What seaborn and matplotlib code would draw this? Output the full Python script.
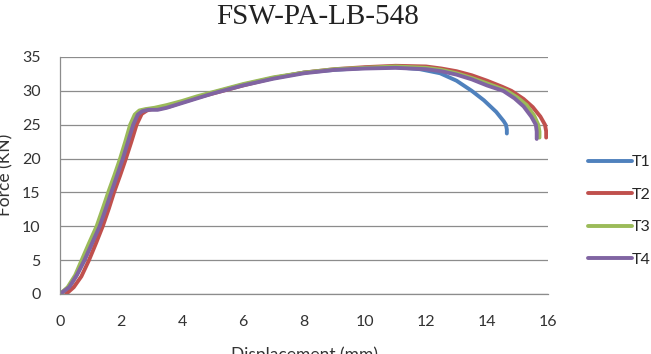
import pandas as pd
import seaborn as sns
import matplotlib.pyplot as plt

# Force-displacement curves
t1_x = [0, 0.3, 0.55, 0.8, 1.05, 1.3, 1.5, 1.68, 1.87, 2.06, 2.23, 2.4, 2.55, 2.7, 2.9, 3.2, 3.5, 4.0, 4.5, 5.0,
        6.0, 7.0, 8.0, 9.0, 10.0, 11.0, 11.8, 12.46, 13.0, 13.5, 13.9, 14.3, 14.55, 14.62, 14.65, 14.65]
t1_y = [0, 1.0, 2.8, 5.0, 7.5, 10.0, 12.6, 15.0, 17.5, 20.0, 22.5, 25.0, 26.5, 27.1, 27.3, 27.4, 27.7, 28.3, 29.0, 29.7,
        30.9, 31.9, 32.7, 33.1, 33.4, 33.5, 33.2, 32.6, 31.5, 30.0, 28.6, 26.9, 25.5, 25.0, 24.3, 23.7]

t2_x = [0.2, 0.45, 0.7, 0.95, 1.18, 1.4, 1.6, 1.77, 1.97, 2.16, 2.34, 2.51, 2.68, 2.85, 3.0, 3.3, 3.6, 4.0, 4.5, 5.0,
        6.0, 7.0, 8.0, 9.0, 10.0, 11.0, 12.0, 12.5, 13.0, 13.5, 14.0, 14.5, 14.8, 15.2, 15.5, 15.75, 15.9, 15.94, 15.94]
t2_y = [0, 1.0, 2.6, 5.0, 7.5, 10.0, 12.6, 15.0, 17.5, 20.0, 22.5, 25.0, 26.6, 27.1, 27.3, 27.4, 27.7, 28.3, 29.0, 29.6,
        30.8, 31.9, 32.7, 33.2, 33.5, 33.7, 33.6, 33.3, 32.9, 32.3, 31.5, 30.6, 30.0, 28.8, 27.6, 26.2, 25.0, 24.0, 23.1]

t3_x = [0, 0.25, 0.5, 0.71, 0.95, 1.2, 1.4, 1.58, 1.78, 1.97, 2.14, 2.3, 2.45, 2.6, 2.8, 3.1, 3.5, 4.0, 4.5, 5.0,
        6.0, 7.0, 8.0, 9.0, 10.0, 11.0, 12.0, 12.5, 13.0, 13.5, 14.0, 14.3, 14.65, 15.0, 15.3, 15.55, 15.68, 15.72, 15.72]
t3_y = [0, 1.0, 2.8, 5.0, 7.5, 10.0, 12.6, 15.0, 17.5, 20.0, 22.5, 25.0, 26.5, 27.1, 27.3, 27.5, 27.9, 28.5, 29.2, 29.8,
        31.0, 32.0, 32.7, 33.2, 33.4, 33.6, 33.4, 33.1, 32.6, 31.9, 31.1, 30.6, 30.0, 29.0, 27.9, 26.3, 25.0, 24.0, 23.1]

t4_x = [0, 0.3, 0.55, 0.8, 1.05, 1.3, 1.5, 1.68, 1.87, 2.06, 2.23, 2.4, 2.55, 2.7, 2.9, 3.2, 3.5, 4.0, 4.5, 5.0,
        6.0, 7.0, 8.0, 9.0, 10.0, 11.0, 12.0, 12.5, 13.0, 13.5, 14.0, 14.53, 14.9, 15.2, 15.45, 15.6, 15.63, 15.63]
t4_y = [0, 1.0, 2.8, 5.0, 7.5, 10.0, 12.6, 15.0, 17.5, 20.0, 22.5, 25.0, 26.5, 27.0, 27.2, 27.2, 27.5, 28.2, 28.9, 29.6,
        30.8, 31.8, 32.6, 33.1, 33.3, 33.4, 33.2, 32.9, 32.4, 31.7, 30.8, 30.0, 28.9, 27.7, 26.2, 25.0, 24.0, 22.9]

series = ['T1', 'T2', 'T3', 'T4']
colors = ['#4F81BD', '#C0504D', '#9BBB59', '#8064A2']
x_ticks = [0, 2, 4, 6, 8, 10, 12, 14, 16]
y_ticks = [0, 5, 10, 15, 20, 25, 30, 35]

frames = []
for name, xs, ys in zip(series, [t1_x, t2_x, t3_x, t4_x], [t1_y, t2_y, t3_y, t4_y]):
    frames.append(pd.DataFrame({'Displacement': xs, 'Force': ys, 'Test': name}))
df = pd.concat(frames, ignore_index=True)

sns.set_style('white')
plt.rcParams['font.family'] = ['Lato', 'DejaVu Sans']

fig = plt.figure(figsize=(6.51, 3.54), dpi=100)
ax = fig.add_axes([0.0922, 0.1695, 0.7496, 0.6695])

sns.lineplot(data=df, x='Displacement', y='Force', hue='Test', palette=colors,
             sort=False, estimator=None, linewidth=2.8, ax=ax, legend=False)

ax.set_xlim(0, 16)
ax.set_ylim(0, 35)
ax.set_xticks(x_ticks)
ax.set_yticks(y_ticks)
ax.yaxis.grid(True, color='#8c8c8c', linewidth=0.9)
ax.xaxis.grid(False)
for side in ['top', 'right']:
    ax.spines[side].set_visible(False)
for side in ['left', 'bottom']:
    ax.spines[side].set_color('#8c8c8c')
    ax.spines[side].set_linewidth(0.9)
ax.tick_params(axis='both', colors='#8c8c8c', labelcolor='#333333', labelsize=11.5,
               length=5, width=0.9, direction='out')
ax.tick_params(axis='x', pad=10)
ax.tick_params(axis='y', pad=9)
ax.set_axisbelow(True)
ax.set_xlabel('')
ax.set_ylabel('')

fig.text(0.467, 0.02, 'Displacement (mm)', ha='center', va='top', fontsize=12.5, color='#333333')
fig.text(0.009, 0.506, 'Force (KN)', ha='center', va='center', rotation=90,
         fontsize=12.5, color='#333333')
fig.text(0.488, 0.953, 'FSW-PA-LB-548', ha='center', va='center',
         fontsize=21, family='Liberation Serif', color='#222222')

handles = [plt.Line2D([], [], color=c, linewidth=2.8) for c in colors]
fig.legend(handles, series, loc='center left', bbox_to_anchor=(0.893, 0.404),
           frameon=False, fontsize=11.5, handlelength=2.75, handletextpad=0.0,
           labelspacing=1.15, borderaxespad=0)

fig.savefig('out.png', dpi=100)
